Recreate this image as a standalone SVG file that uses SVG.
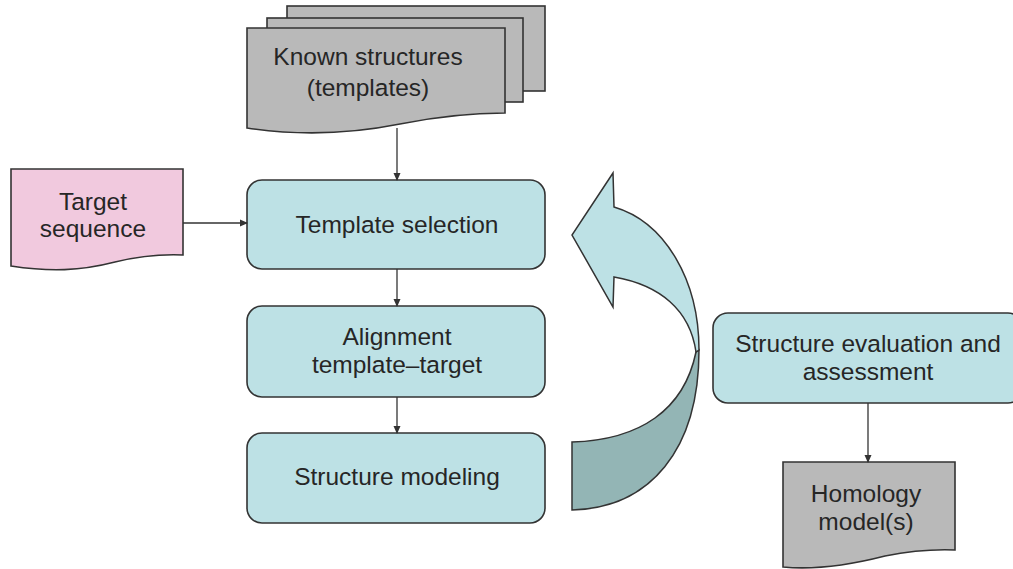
<svg xmlns="http://www.w3.org/2000/svg" width="1013" height="569" viewBox="0 0 1013 569">
<defs>
<style>
.box{fill:#bde1e5;stroke:#333;stroke-width:1.6}
.doc{fill:#b9b9b9;stroke:#333;stroke-width:1.6}
.pink{fill:#f1c9de;stroke:#333;stroke-width:1.6}
.t{font-family:"Liberation Sans",Arial,sans-serif;font-size:24.5px;fill:#262626;text-anchor:middle}
.c{stroke:#333;stroke-width:1.3;fill:none;marker-end:url(#ah)}
</style>
<marker id="ah" markerWidth="8" markerHeight="8" refX="7" refY="4" orient="auto" markerUnits="userSpaceOnUse">
<path d="M0,0.5 L8,4 L0,7.5 Z" fill="#333"/>
</marker>
</defs>
<rect width="1013" height="569" fill="#fff"/>

<g id="known-structures">
<rect class="doc" x="287" y="6" width="258" height="85"/>
<rect class="doc" x="267" y="18" width="256" height="84"/>
<path class="doc" d="M247 28 L505 28 L505 113 C470 113 440 116 400 124 C350 134 300 136 247 128 Z"/>
<text class="t" x="368" y="65">Known structures</text>
<text class="t" x="368" y="96">(templates)</text>
</g>

<g id="target-sequence">
<path class="pink" d="M11 169 L183 169 L183 255 C160 254 140 256 115 262 C80 271 50 272 11 266 Z"/>
<text class="t" x="93" y="210">Target</text>
<text class="t" x="93" y="237">sequence</text>
</g>

<g id="template-selection">
<rect class="box" x="247" y="180" width="298" height="89" rx="15"/>
<text class="t" x="397" y="233">Template selection</text>
</g>

<g id="alignment">
<rect class="box" x="247" y="306" width="298" height="91" rx="15"/>
<text class="t" x="397" y="345">Alignment</text>
<text class="t" x="397" y="373">template–target</text>
</g>

<g id="structure-modeling">
<rect class="box" x="247" y="433" width="298" height="90" rx="15"/>
<text class="t" x="397" y="485">Structure modeling</text>
</g>

<g id="curved-arrow">
<path fill="#93b5b5" stroke="#333" stroke-width="1.5" d="M696 352 C684 410 640 440 572 442 L572 510 C650 508 699 450 699 350 Z"/>
<path fill="#bde1e5" stroke="#333" stroke-width="1.5" d="M613 173 L614 207 C665 222 699 280 699 350 L696 352 C690 310 660 285 614 277 L613 307 L572 235 Z"/>
</g>

<g id="structure-evaluation">
<rect class="box" x="713" y="313" width="310" height="90" rx="15"/>
<text class="t" x="868" y="352">Structure evaluation and</text>
<text class="t" x="868" y="380">assessment</text>
</g>

<g id="homology-model">
<path class="doc" d="M783 462 L955 462 L955 550 C930 549 910 551 885 556 C850 565 815 570 783 567 Z"/>
<text class="t" x="866" y="502">Homology</text>
<text class="t" x="866" y="530">model(s)</text>
</g>

<g id="connectors">
<line class="c" x1="397" y1="128" x2="397" y2="180"/>
<line class="c" x1="183" y1="223" x2="247" y2="223"/>
<line class="c" x1="397" y1="269" x2="397" y2="306"/>
<line class="c" x1="397" y1="397" x2="397" y2="433"/>
<line class="c" x1="868" y1="403" x2="868" y2="462"/>
</g>
</svg>
